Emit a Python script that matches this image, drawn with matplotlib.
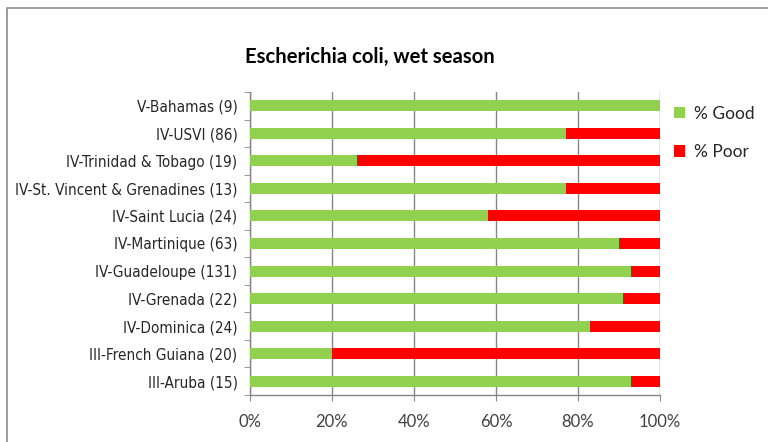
import matplotlib
matplotlib.use("Agg")
import matplotlib.pyplot as plt
from matplotlib.patches import Rectangle

categories = [
    "V-Bahamas (9)",
    "IV-USVI (86)",
    "IV-Trinidad & Tobago (19)",
    "IV-St. Vincent & Grenadines (13)",
    "IV-Saint Lucia (24)",
    "IV-Martinique (63)",
    "IV-Guadeloupe (131)",
    "IV-Grenada (22)",
    "IV-Dominica (24)",
    "III-French Guiana (20)",
    "III-Aruba (15)",
]
pct_good = [100, 77, 26, 77, 58, 90, 93, 91, 83, 20, 93]
pct_poor = [100 - g for g in pct_good]
xticks = [0, 20, 40, 60, 80, 100]
xtick_labels = ["0%", "20%", "40%", "60%", "80%", "100%"]

W, H = 768, 442
fig = plt.figure(figsize=(W / 100, H / 100), dpi=100)
fig.patch.set_facecolor("white")

# outer chart border
fig.add_artist(Rectangle((7 / W, -0.05), 1.0, (H - 8) / H + 0.05,
                         transform=fig.transFigure, fill=False,
                         edgecolor="#8c8c8c", linewidth=1.2))

ax = fig.add_axes([250 / W, (H - 395) / H, 410 / W, 303 / H])
n = len(categories)
y = list(range(n))
ax.barh(y, pct_good, height=0.4, color="#92d050", label="% Good", zorder=3)
ax.barh(y, pct_poor, left=pct_good, height=0.4, color="#ff0000",
        label="% Poor", zorder=3)

ax.set_xlim(0, 100)
ax.set_ylim(n - 0.5, -0.5)
ax.set_yticks(y)
ax.set_yticklabels(categories, fontfamily="DejaVu Sans", fontstretch="condensed",
                   fontsize=11, color="#262626")
ax.set_yticks([i - 0.5 for i in range(n + 1)], minor=True)
ax.tick_params(axis="y", which="major", length=0, pad=9)
ax.tick_params(axis="y", which="minor", length=4, color="#868686", direction="out")
ax.set_xticks(xticks)
ax.set_xticklabels(xtick_labels, fontfamily="Lato", fontsize=12, color="#404040")
ax.tick_params(axis="x", length=4, color="#868686", direction="out", pad=10)

ax.grid(axis="x", color="#868686", linewidth=1, zorder=0)
for side in ["top", "right"]:
    ax.spines[side].set_visible(False)
for side in ["left", "bottom"]:
    ax.spines[side].set_color("#868686")
    ax.spines[side].set_linewidth(1)

fig.text(370 / W, 1 - 57 / H, "Escherichia coli, wet season",
         ha="center", va="center", fontfamily="Lato", fontweight="bold",
         fontsize=14.6)

leg = ax.legend(loc="upper left", bbox_to_anchor=(658 / W, 1 - 90 / H),
                bbox_transform=fig.transFigure, frameon=False,
                prop={"family": "Lato", "size": 12.5},
                handlelength=0.65, handleheight=0.65, handletextpad=0.5,
                labelspacing=1.3)
for t in leg.get_texts():
    t.set_color("#262626")

fig.savefig("out.png", dpi=100, facecolor="white")
